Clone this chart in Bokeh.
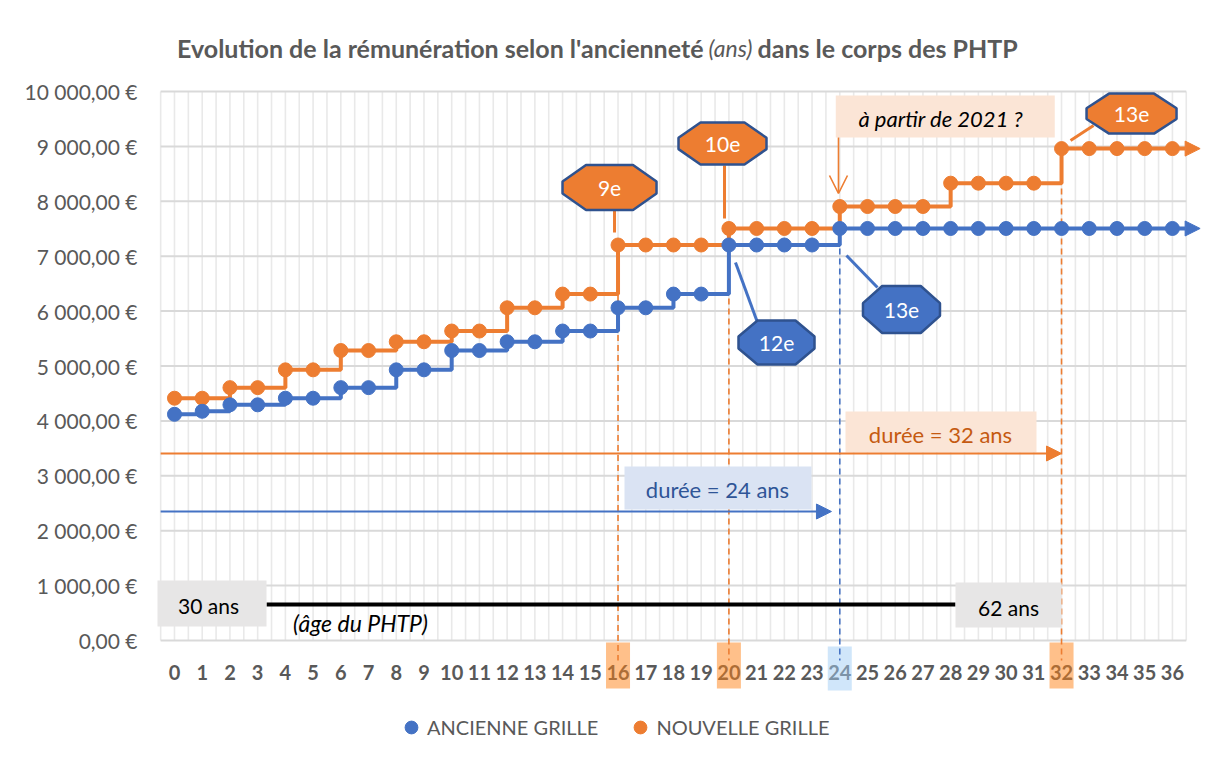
from bokeh.plotting import figure
from bokeh.models import Range1d, FixedTicker, Arrow, NormalHead, OpenHead, Legend, LegendItem
from bokeh.core.properties import value
from bokeh.embed import file_html
from bokeh.resources import INLINE

# ---------------- data ----------------
anciennete = list(range(37))
ancienne_grille = [4120, 4175, 4293, 4293, 4413, 4413, 4606, 4606, 4930, 4930,
                   5282, 5282, 5441, 5441, 5637, 5637, 6060, 6060, 6310, 6310,
                   7204, 7204, 7204, 7204,
                   7505, 7505, 7505, 7505, 7505, 7505, 7505, 7505, 7505, 7505, 7505, 7505, 7505]
nouvelle_grille = [4413, 4413, 4606, 4606, 4930, 4930, 5282, 5282, 5441, 5441,
                   5637, 5637, 6060, 6060, 6310, 6310,
                   7204, 7204, 7204, 7204,
                   7505, 7505, 7505, 7505,
                   7905, 7905, 7905, 7905,
                   8330, 8330, 8330, 8330,
                   8960, 8960, 8960, 8960, 8960]
series_names = ["ANCIENNE GRILLE", "NOUVELLE GRILLE"]
y_ticks = [0, 1000, 2000, 3000, 4000, 5000, 6000, 7000, 8000, 9000, 10000]
y_tick_labels = ["0,00 €", "1 000,00 €", "2 000,00 €", "3 000,00 €", "4 000,00 €", "5 000,00 €",
                 "6 000,00 €", "7 000,00 €", "8 000,00 €", "9 000,00 €", "10 000,00 €"]
x_tick_labels = [str(v) for v in anciennete]
highlight_orange = [16, 20, 32]
highlight_blue = [24]
duree_ancienne = 24
duree_nouvelle = 32
title_parts = ["Evolution de la rémunération selon l'ancienneté", "(ans)", "dans le corps des PHTP"]

# ---------------- styling ----------------
BLUE = "#4472C4"
ORANGE = "#ED7D31"
OUTLINE = "#2F528F"
GREY = "#595959"
FONT = "Lato"

# pixel geometry helpers (page pixels <-> data) for annotation placement
X0PX, PXX = 174.0, 27.72
Y0PX, PXY = 640.0, 0.0549


def dx(px):
    return (px - X0PX) / PXX


def dy(py):
    return (Y0PX - py) / PXY


def apx(x):
    return X0PX + x * PXX


def apy(y):
    return Y0PX - y * PXY


p = figure(width=1213, height=760, output_backend="svg", toolbar_location=None,
           x_range=Range1d(dx(150), dx(1208)), y_range=Range1d(dy(758), dy(10)),
           x_axis_location=None, min_border_left=150, min_border_right=5,
           min_border_top=10, min_border_bottom=2)
p.outline_line_color = None
p.xgrid.grid_line_color = None
p.ygrid.grid_line_color = None
p.background_fill_color = "white"
p.border_fill_color = "white"

ax = p.yaxis[0]
ax.ticker = FixedTicker(ticks=y_ticks)
ax.major_label_overrides = {t: l for t, l in zip(y_ticks, y_tick_labels)}
ax.axis_line_color = None
ax.major_tick_line_color = None
ax.minor_tick_line_color = None
ax.major_tick_out = 0
ax.major_tick_in = 0
ax.major_label_standoff = 13
ax.major_label_text_font = FONT
ax.major_label_text_font_size = "21px"
ax.major_label_text_color = GREY


def txt(x, y, s, size, color, style="normal", align="center"):
    p.text(x=[x], y=[y], text=[s], text_font=value(FONT), text_font_size=f"{size}px",
           text_color=color, text_font_style=style, text_align=align, text_baseline="middle")


# ---------------- grid ----------------
vx = [i * 0.5 for i in range(-1, 74)]
p.segment(x0=vx, y0=[y_ticks[0]] * len(vx), x1=vx, y1=[y_ticks[-1]] * len(vx),
          line_color="#E9E9E9", line_width=1.6)
p.segment(x0=[-0.5] * len(y_ticks), y0=y_ticks, x1=[36.5] * len(y_ticks), y1=y_ticks,
          line_color="#D9D9D9", line_width=2)

# ---------------- title ----------------
ty = dy(47)
txt(dx(703), ty, title_parts[0], 25, GREY, "bold", "right")
txt(dx(730), ty, title_parts[1], 23, GREY, "italic", "center")
txt(dx(757), ty, title_parts[2], 25, GREY, "bold", "left")

# ---------------- x tick labels + highlight boxes ----------------
p.text(x=anciennete, y=[dy(672)] * len(anciennete), text=x_tick_labels, text_font=value(FONT),
       text_font_size="20px", text_font_style="bold", text_color=GREY,
       text_align="center", text_baseline="middle")
hw = 12 / PXX
p.quad(left=[v - hw for v in highlight_orange], right=[v + hw for v in highlight_orange],
       top=[dy(642)] * 3, bottom=[dy(688)] * 3, fill_color="#FF8115", fill_alpha=0.5, line_color=None)
p.quad(left=[v - hw for v in highlight_blue], right=[v + hw for v in highlight_blue],
       top=[dy(646)], bottom=[dy(690)], fill_color="#A1CDF5", fill_alpha=0.5, line_color=None)

# ---------------- vertical dashed markers ----------------
p.segment(x0=highlight_orange, y0=[nouvelle_grille[i] for i in highlight_orange],
          x1=highlight_orange, y1=[dy(660)] * 3, line_color=ORANGE, line_width=1.6, line_dash="6 4")
p.segment(x0=highlight_blue, y0=[ancienne_grille[i] for i in highlight_blue],
          x1=highlight_blue, y1=[dy(660)], line_color=BLUE, line_width=1.6, line_dash="6 4")

# ---------------- age line ----------------
age_y = dy(604)
p.segment(x0=[dx(266)], y0=[age_y], x1=[dx(955)], y1=[age_y], line_color="black", line_width=4)
p.quad(left=[dx(157), dx(955)], right=[dx(266), duree_nouvelle],
       top=[dy(580), dy(582)], bottom=[dy(626), dy(627)], fill_color="#E7E6E6", line_color=None)
txt(dx(208), dy(605), "30 ans", 21, "black")
txt(dx(1008), dy(607), "62 ans", 21, "black")
txt(dx(360), dy(622), "(âge du PHTP)", 23, "black", "italic")

# ---------------- durée arrows ----------------
y32 = dy(453)
p.quad(left=[dx(845)], right=[dx(1036)], top=[dy(411)], bottom=[dy(452)],
       fill_color="#FBE5D6", line_color=None)
txt(dx(940), dy(434), "durée = 32 ans", 22, "#C55A11")
p.add_layout(Arrow(x_start=-0.5, y_start=y32, x_end=duree_nouvelle, y_end=y32,
                   line_color=ORANGE, line_width=2.2,
                   end=NormalHead(size=15, fill_color=ORANGE, line_color=ORANGE, line_width=1)))
y24 = dy(511)
p.quad(left=[dx(624)], right=[dx(811)], top=[dy(466)], bottom=[dy(509)],
       fill_color="#DAE3F3", line_color=None)
txt(dx(717), dy(489), "durée = 24 ans", 22, "#2F5597")
p.add_layout(Arrow(x_start=-0.5, y_start=y24, x_end=duree_ancienne - 0.3, y_end=y24,
                   line_color=BLUE, line_width=2.2,
                   end=NormalHead(size=15, fill_color=BLUE, line_color=BLUE, line_width=1)))

# ---------------- "à partir de 2021 ?" ----------------
ax24, ay24 = apx(24), apy(nouvelle_grille[24])
p.quad(left=[dx(ax24 - 4)], right=[dx(ax24 + 215)], top=[dy(ay24 - 111)], bottom=[dy(ay24 - 69)],
       fill_color="#FBE5D6", line_color=None)
txt(dx(ax24 + 101), dy(ay24 - 88), "à partir de 2021 ?", 22, "black", "italic")
p.add_layout(Arrow(x_start=dx(ax24 - 1.3), y_start=dy(ay24 - 69), x_end=dx(ax24 - 1.3), y_end=dy(ay24 - 13),
                   line_color=ORANGE, line_width=1.6,
                   end=OpenHead(size=18, line_color=ORANGE, line_width=1.6)))

# ---------------- series ----------------
p.step(anciennete, nouvelle_grille, mode="after", line_color=ORANGE, line_width=4)
p.step(anciennete, ancienne_grille, mode="after", line_color=BLUE, line_width=4)
p.add_layout(Arrow(x_start=anciennete[-1], y_start=nouvelle_grille[-1], x_end=37.0, y_end=nouvelle_grille[-1],
                   line_color=ORANGE, line_width=4,
                   end=NormalHead(size=15, fill_color=ORANGE, line_color=ORANGE, line_width=1)))
p.add_layout(Arrow(x_start=anciennete[-1], y_start=ancienne_grille[-1], x_end=37.0, y_end=ancienne_grille[-1],
                   line_color=BLUE, line_width=4,
                   end=NormalHead(size=15, fill_color=BLUE, line_color=BLUE, line_width=1)))
r_new = p.scatter(anciennete, nouvelle_grille, size=14, fill_color=ORANGE, line_color=ORANGE)
r_old = p.scatter(anciennete, ancienne_grille, size=14, fill_color=BLUE, line_color=BLUE)

# ---------------- callouts ----------------


def octagon(cx, cy, w, h):
    a, b = w / 2, h / 2
    pts = [(-0.5 * a, -b), (0.5 * a, -b), (a, -0.27 * b), (a, 0.27 * b),
           (0.5 * a, b), (-0.5 * a, b), (-a, 0.27 * b), (-a, -0.27 * b)]
    return [dx(cx + u) for u, _ in pts], [dy(cy + v) for _, v in pts]


callouts = [
    # label, series, index, center offset, size, pointer start, pointer end, fill
    ("9e", nouvelle_grille, 16, (-8.5, -57.5), (94, 45), (-3.5, -35.5), (-3.5, -12.5), ORANGE),
    ("10e", nouvelle_grille, 20, (-6.4, -85), (88, 42), (-4.4, -63), (-4.4, -10), ORANGE),
    ("13e", nouvelle_grille, 32, (70, -35), (90, 40), (32, -23), (9, -8), ORANGE),
    ("12e", ancienne_grille, 20, (47.6, 97.5), (76, 44), (6.6, 17.5), (28.6, 77.5), BLUE),
    ("13e", ancienne_grille, 24, (61.7, 81), (77, 47), (6.7, 27), (37.7, 59), BLUE),
]
for lab, ser, idx, c, sz, ps, pe, col in callouts:
    ax0, ay0 = apx(anciennete[idx]), apy(ser[idx])
    p.segment(x0=[dx(ax0 + ps[0])], y0=[dy(ay0 + ps[1])], x1=[dx(ax0 + pe[0])], y1=[dy(ay0 + pe[1])],
              line_color=col, line_width=3)
    xs, ys = octagon(ax0 + c[0], ay0 + c[1], sz[0], sz[1])
    p.patch(xs, ys, fill_color=col, line_color=OUTLINE, line_width=2.5)
    txt(dx(ax0 + c[0]), dy(ay0 + c[1] + 1), lab, 21, "white")

# ---------------- legend ----------------
legend = Legend(items=[LegendItem(label=series_names[0], renderers=[r_old]),
                       LegendItem(label=series_names[1], renderers=[r_new])],
                orientation="horizontal", location=(245, 15), padding=0, margin=0,
                spacing=26, label_standoff=0, glyph_width=32, glyph_height=32,
                label_text_font=FONT, label_text_font_size="20px", label_text_color=GREY,
                border_line_color=None, background_fill_alpha=0)
p.add_layout(legend)

open("out.html", "w").write(file_html(p, INLINE))
